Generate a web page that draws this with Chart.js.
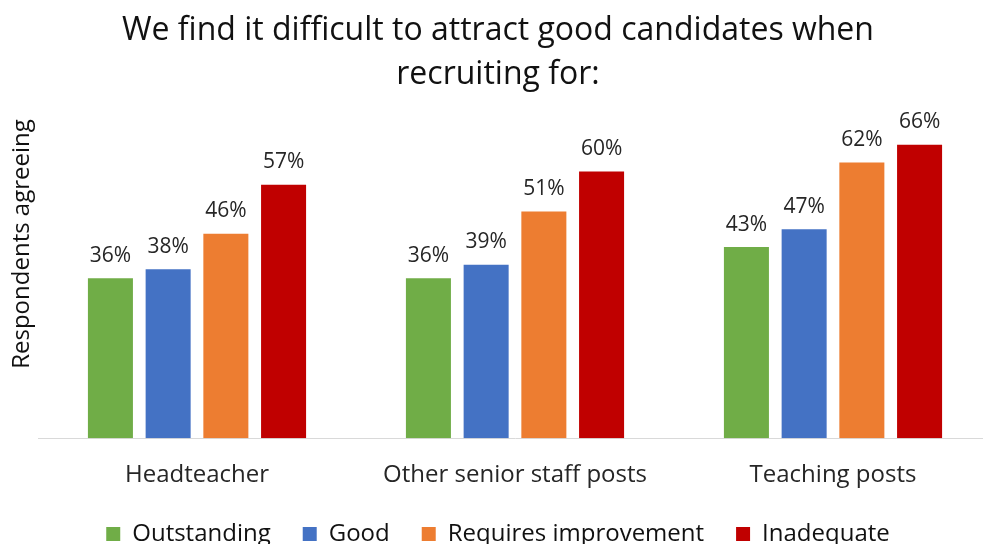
<!DOCTYPE html>
<html>
<head>
<meta charset="utf-8">
<script src="https://cdn.jsdelivr.net/npm/chart.js@4.4.0/dist/chart.umd.min.js"></script>
<style>
  html, body { margin: 0; padding: 0; overflow: hidden; background: #fff; }
  #wrap { position: relative; width: 992px; height: 570px; }
</style>
</head>
<body>
<div id="wrap"><canvas id="chart"></canvas></div>
<script>
// Chart data
const categories = ["Headteacher", "Other senior staff posts", "Teaching posts"];
const outstanding = [36, 36, 43];
const good = [38, 39, 47];
const requiresImprovement = [46, 51, 62];
const inadequate = [57, 60, 66];

const titleLines = ["We find it difficult to attract good candidates when", "recruiting for:"];
const yTitle = "Respondents agreeing";

const FONT = "'Open Sans', 'Noto Sans', sans-serif";

// Draw the % labels above each bar
const barLabels = {
  id: "barLabels",
  afterDatasetsDraw(chart) {
    const ctx = chart.ctx;
    ctx.save();
    ctx.font = "21px " + FONT;
    ctx.fillStyle = "#262626";
    ctx.textAlign = "center";
    ctx.textBaseline = "bottom";
    chart.data.datasets.forEach((ds, i) => {
      const meta = chart.getDatasetMeta(i);
      meta.data.forEach((bar, j) => {
        ctx.fillText(ds.data[j] + "%", bar.x, bar.y - 12);
      });
    });
    ctx.restore();
  },
};

// Vertical axis title, drawn a bit above the plot centre like the original
const yAxisTitle = {
  id: "yAxisTitle",
  afterDraw(chart) {
    const ctx = chart.ctx;
    ctx.save();
    ctx.translate(22, 244);
    ctx.rotate(-Math.PI / 2);
    ctx.font = "24px " + FONT;
    ctx.fillStyle = "#111";
    ctx.textAlign = "center";
    ctx.textBaseline = "middle";
    ctx.fillText(yTitle, 0, 0);
    ctx.restore();
  },
};

const ctx = document.getElementById("chart").getContext("2d");
new Chart(ctx, {
  type: "bar",
  data: {
    labels: categories,
    datasets: [
      { label: "Outstanding", data: outstanding, backgroundColor: "#70AD47" },
      { label: "Good", data: good, backgroundColor: "#4472C4" },
      { label: "Requires improvement", data: requiresImprovement, backgroundColor: "#ED7D31" },
      { label: "Inadequate", data: inadequate, backgroundColor: "#C00000" },
    ],
  },
  options: {
    responsive: true,
    maintainAspectRatio: false,
    animation: false,
    datasets: {
      bar: { barPercentage: 0.78, categoryPercentage: 0.726 },
    },
    layout: { padding: { left: 4, right: 0, top: 0, bottom: 14 } },
    scales: {
      x: {
        grid: { display: false, drawTicks: false },
        border: { color: "#D9D9D9", width: 1 },
        ticks: { color: "#262626", font: { family: FONT, size: 24 }, padding: 23 },
        afterFit(axis) {
          axis.height = axis.height - 23;
        },
      },
      y: {
        min: 0,
        max: 70,
        grid: { display: false, drawTicks: false },
        border: { display: false },
        ticks: { display: false },
        afterFit(axis) {
          axis.width = 34;
        },
      },
    },
    plugins: {
      title: {
        display: true,
        text: titleLines,
        color: "#111",
        font: { family: FONT, size: 32, weight: "normal", lineHeight: 1.375 },
        padding: { top: 9, bottom: 30 },
      },
      legend: {
        position: "bottom",
        labels: {
          color: "#111",
          boxWidth: 14,
          boxHeight: 14,
          padding: 32,
          font: { family: FONT, size: 24 },
        },
      },
      tooltip: { enabled: false },
    },
  },
  plugins: [barLabels, yAxisTitle],
});
</script>
</body>
</html>
